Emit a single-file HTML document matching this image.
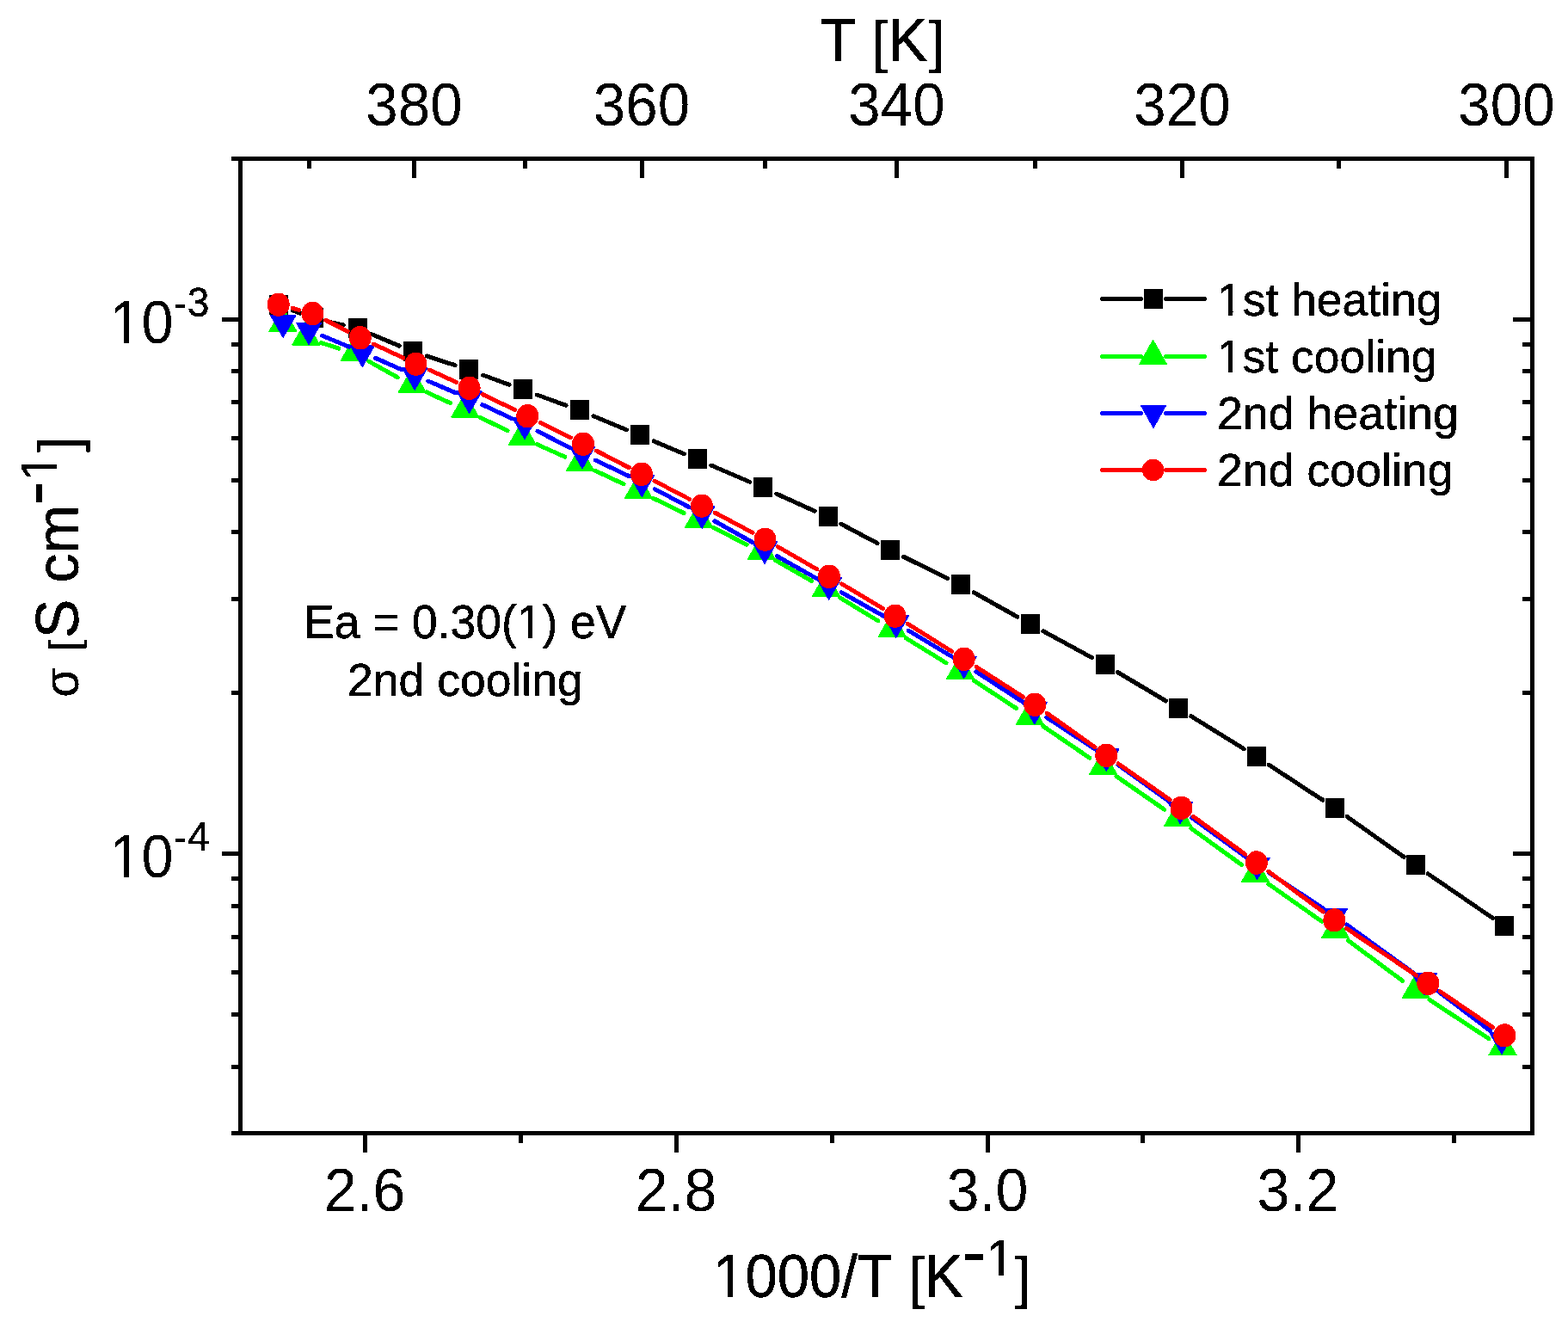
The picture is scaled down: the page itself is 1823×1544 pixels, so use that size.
<!DOCTYPE html>
<html lang="en"><head><meta charset="utf-8"><title>Conductivity Arrhenius plot</title>
<style>html,body{margin:0;padding:0;background:#fff}body{width:1823px;height:1544px;overflow:hidden}svg{display:block}text{font-family:"Liberation Sans",sans-serif;fill:#000;stroke:#000;stroke-linejoin:miter}</style>
</head><body>
<svg xmlns="http://www.w3.org/2000/svg" width="1823" height="1544" viewBox="0 0 1823 1544">
<defs><filter id="th" filterUnits="userSpaceOnUse" x="0" y="0" width="1823" height="1544" color-interpolation-filters="sRGB"><feComponentTransfer><feFuncA type="discrete" tableValues="0 1"/></feComponentTransfer></filter>
<clipPath id="ft"><path clip-rule="evenodd" d="M0 0H1823V1544H0ZM130.00 394.00H144.00V402.00H130.00ZM150.00 394.00H164.00V402.00H150.00ZM130.00 1015.00H144.00V1024.00H130.00ZM150.00 1015.00H164.00V1024.00H150.00ZM831.00 1502.00H846.00V1512.00H831.00ZM852.00 1502.00H866.00V1512.00H852.00ZM1149.00 1478.00H1161.00V1487.00H1149.00ZM1167.00 1478.00H1179.00V1487.00H1167.00ZM61.00 545.00H70.00V558.00H61.00ZM61.00 527.00H70.00V540.00H61.00ZM602.00 737.00H614.00V746.00H602.00ZM619.00 737.00H631.00V746.00H619.00ZM1416.00 363.00H1428.00V371.00H1416.00ZM1433.00 363.00H1445.00V371.00H1433.00ZM1416.00 429.00H1428.00V437.00H1416.00ZM1433.00 429.00H1445.00V437.00H1433.00Z"/></clipPath></defs>
<rect x="0" y="0" width="1823" height="1544" fill="#fff"/>
<g filter="url(#th)"><path d="M340.1 360.9L348.7 364.1M381.4 374.0L399.2 378.0M431.7 388.5L464.3 402.1M496.3 414.0L529.1 424.7M561.4 436.0L592.1 447.3M624.3 459.0L658.1 471.3M690.0 483.7L728.4 499.7M760.0 512.9L795.3 527.7M826.8 541.0L871.5 560.3M902.8 574.1L947.2 594.2M977.9 609.2L1020.1 631.6M1050.5 647.2L1101.9 672.7M1132.1 688.7L1182.9 717.3M1212.8 733.8L1269.6 764.6M1299.4 781.5L1355.5 815.0M1384.7 832.7L1446.2 870.7M1475.1 889.1L1537.9 930.2M1566.1 949.5L1632.2 996.4M1660.3 1016.0L1735.6 1067.5" fill="none" stroke="#000" stroke-width="5" stroke-linecap="round"/><path d="M313 343h22v23h-22zM354 358h22v23h-22zM405 370h22v23h-22zM469 397h22v23h-22zM534 418h22v23h-22zM597 441h22v23h-22zM663 465h22v23h-22zM733 494h22v23h-22zM800 522h22v23h-22zM876 555h22v23h-22zM952 589h22v23h-22zM1024 628h22v23h-22zM1106 668h22v23h-22zM1187 714h22v23h-22zM1274 761h22v23h-22zM1359 812h22v23h-22zM1450 868h22v23h-22zM1541 928h22v23h-22zM1635 994h22v23h-22zM1738 1065h22v23h-22z" fill="#000"/><path d="M1281.2 347.5H1326.5M1355.5 347.5H1400.5" stroke="#000" stroke-width="5" stroke-linecap="round" fill="none"/><path d="M1330 336h22v23h-22z" fill="#000"/></g>
<g filter="url(#th)"><path d="M373.6 398.6L393.9 405.1M428.7 420.1L462.3 438.7M496.1 455.9L523.3 468.6M557.6 485.0L590.0 500.7M624.5 516.7L657.0 531.2M691.5 547.0L725.0 562.8M759.3 579.2L795.1 596.4M829.2 613.3L868.1 633.2M901.5 651.3L943.8 675.5M976.5 694.8L1020.8 721.9M1053.2 741.8L1100.1 770.8M1132.1 791.1L1181.3 823.3M1212.8 844.4L1266.7 881.1M1298.0 902.6L1353.6 941.1M1384.7 963.0L1443.8 1005.6M1474.8 1027.7L1536.6 1071.2M1567.4 1093.5L1630.8 1140.6M1661.9 1162.4L1730.9 1207.7" fill="none" stroke="#0f0" stroke-width="5" stroke-linecap="round"/><path d="M328.9 356.2L345.8 385.8L312.0 385.8ZM355.8 371.9L372.7 401.5L338.9 401.5ZM412.3 390.0L429.2 419.6L395.4 419.6ZM479.2 427.0L496.1 456.6L462.3 456.6ZM540.8 455.8L557.6 485.4L523.9 485.4ZM607.4 488.1L624.2 517.7L590.5 517.7ZM674.6 518.0L691.5 547.6L657.8 547.6ZM742.4 550.1L759.2 579.7L725.5 579.7ZM812.5 583.8L829.4 613.4L795.6 613.4ZM885.3 621.0L902.1 650.6L868.4 650.6ZM960.5 664.1L977.4 693.7L943.6 693.7ZM1037.3 711.0L1054.1 740.6L1020.4 740.6ZM1116.5 759.9L1133.3 789.5L1099.7 789.5ZM1197.4 812.9L1214.2 842.5L1180.6 842.5ZM1282.6 871.0L1299.4 900.6L1265.8 900.6ZM1369.5 931.1L1386.3 960.7L1352.7 960.7ZM1459.5 995.9L1476.3 1025.5L1442.7 1025.5ZM1552.4 1061.3L1569.2 1090.9L1535.6 1090.9ZM1646.3 1131.1L1663.1 1160.7L1629.5 1160.7ZM1747.0 1197.3L1763.8 1226.9L1730.2 1226.9Z" fill="#0f0"/><path d="M1281.2 414.5H1326.5M1355.5 414.5H1400.5" stroke="#0f0" stroke-width="5" stroke-linecap="round" fill="none"/><path d="M1340.6 394.3L1357.4 423.9L1323.8 423.9Z" fill="#0f0"/></g>
<g filter="url(#th)"><path d="M374.6 390.2L405.8 403.2M436.7 416.4L466.8 429.7M497.6 443.0L530.2 456.9M560.8 470.6L594.8 486.6M625.0 501.3L662.0 520.3M692.2 535.1L731.1 553.6M761.2 568.6L801.3 589.7M830.8 605.8L874.4 630.3M903.6 646.8L949.1 672.4M978.3 688.8L1027.3 716.3M1056.3 733.1L1106.3 763.2M1134.8 780.9L1188.7 815.8M1216.9 834.1L1272.2 870.4M1300.0 889.3L1358.5 931.1M1385.8 950.7L1448.0 995.9M1475.6 1015.0L1538.0 1055.9M1565.6 1074.9L1642.4 1130.5M1669.4 1150.5L1732.6 1198.5" fill="none" stroke="#00f" stroke-width="5" stroke-linecap="round"/><path d="M329.2 393.5L344.7 366.5L313.7 366.5ZM359.1 401.7L374.6 374.7L343.6 374.7ZM421.3 427.7L436.8 400.7L405.8 400.7ZM482.2 454.4L497.7 427.4L466.7 427.4ZM545.6 481.5L561.1 454.5L530.1 454.5ZM610.0 511.7L625.5 484.7L594.5 484.7ZM677.0 545.9L692.5 518.9L661.5 518.9ZM746.3 578.8L761.8 551.8L730.8 551.8ZM816.2 615.5L831.7 588.5L800.7 588.5ZM889.0 656.6L904.5 629.6L873.5 629.6ZM963.7 698.6L979.2 671.6L948.2 671.6ZM1041.9 742.5L1057.4 715.5L1026.4 715.5ZM1120.7 789.8L1136.2 762.8L1105.2 762.8ZM1202.8 842.9L1218.3 815.9L1187.3 815.9ZM1286.3 897.6L1301.8 870.6L1270.8 870.6ZM1372.2 958.8L1387.7 931.8L1356.7 931.8ZM1461.6 1023.8L1477.1 996.8L1446.1 996.8ZM1552.0 1083.1L1567.5 1056.1L1536.5 1056.1ZM1656.0 1158.3L1671.5 1131.3L1640.5 1131.3ZM1746.0 1226.7L1761.5 1199.7L1730.5 1199.7Z" fill="#00f"/><path d="M1281.2 480.5H1326.5M1355.5 480.5H1400.5" stroke="#00f" stroke-width="5" stroke-linecap="round" fill="none"/><path d="M1341.0 498.8L1356.5 470.8L1325.5 470.8Z" fill="#00f"/></g>
<g filter="url(#th)"><path d="M340.2 358.3L347.6 360.3M378.6 372.2L404.3 385.3M434.3 400.0L468.7 416.1M499.1 430.0L530.7 444.4M561.0 458.5L598.6 476.6M628.6 491.4L663.4 508.8M693.2 524.0L731.4 543.7M761.0 559.1L801.6 580.4M831.1 596.0L875.1 619.4M904.3 635.6L949.8 661.9M978.6 678.9L1026.6 707.6M1055.1 725.1L1106.9 757.5M1135.1 775.4L1189.5 810.4M1217.1 829.1L1273.0 868.8M1300.3 888.0L1360.1 929.8M1387.3 949.2L1447.7 993.3M1474.6 1013.1L1538.2 1060.1M1565.5 1079.4L1646.8 1134.1M1674.4 1152.8L1735.8 1194.6" fill="none" stroke="#f00" stroke-width="5" stroke-linecap="round"/><path d="M310.7 354.1a13 13.7 0 1 0 26 0a13 13.7 0 1 0 -26 0zM350.4 364.5a13 13.7 0 1 0 26 0a13 13.7 0 1 0 -26 0zM405.8 392.8a13 13.7 0 1 0 26 0a13 13.7 0 1 0 -26 0zM470.5 423.1a13 13.7 0 1 0 26 0a13 13.7 0 1 0 -26 0zM532.6 451.2a13 13.7 0 1 0 26 0a13 13.7 0 1 0 -26 0zM600.3 483.8a13 13.7 0 1 0 26 0a13 13.7 0 1 0 -26 0zM665.0 516.2a13 13.7 0 1 0 26 0a13 13.7 0 1 0 -26 0zM732.9 551.3a13 13.7 0 1 0 26 0a13 13.7 0 1 0 -26 0zM803.0 588.1a13 13.7 0 1 0 26 0a13 13.7 0 1 0 -26 0zM876.5 627.1a13 13.7 0 1 0 26 0a13 13.7 0 1 0 -26 0zM950.9 670.2a13 13.7 0 1 0 26 0a13 13.7 0 1 0 -26 0zM1027.6 716.1a13 13.7 0 1 0 26 0a13 13.7 0 1 0 -26 0zM1107.7 766.2a13 13.7 0 1 0 26 0a13 13.7 0 1 0 -26 0zM1190.2 819.3a13 13.7 0 1 0 26 0a13 13.7 0 1 0 -26 0zM1273.3 878.3a13 13.7 0 1 0 26 0a13 13.7 0 1 0 -26 0zM1360.5 939.2a13 13.7 0 1 0 26 0a13 13.7 0 1 0 -26 0zM1447.9 1003.0a13 13.7 0 1 0 26 0a13 13.7 0 1 0 -26 0zM1538.3 1069.9a13 13.7 0 1 0 26 0a13 13.7 0 1 0 -26 0zM1647.3 1143.3a13 13.7 0 1 0 26 0a13 13.7 0 1 0 -26 0zM1736.3 1203.9a13 13.7 0 1 0 26 0a13 13.7 0 1 0 -26 0z" fill="#f00"/><path d="M1281.2 546.5H1326.5M1355.5 546.5H1400.5" stroke="#f00" stroke-width="5" stroke-linecap="round" fill="none"/><path d="M1327.9 546.5a12.7 12.7 0 1 0 25.4 0a12.7 12.7 0 1 0 -25.4 0z" fill="#f00"/></g>
<g fill="#000" shape-rendering="crispEdges">
<rect x="269" y="182" width="1515" height="5"/>
<rect x="269" y="1315" width="1515" height="5"/>
<rect x="277" y="182" width="5" height="1138"/>
<rect x="1779" y="182" width="5" height="1138"/>
<rect x="479" y="182" width="5" height="25"/>
<rect x="744" y="182" width="5" height="25"/>
<rect x="1040" y="182" width="5" height="25"/>
<rect x="1372" y="182" width="5" height="25"/>
<rect x="1749" y="182" width="5" height="25"/>
<rect x="357" y="182" width="5" height="14"/>
<rect x="608" y="182" width="5" height="14"/>
<rect x="887" y="182" width="5" height="14"/>
<rect x="1201" y="182" width="5" height="14"/>
<rect x="1554" y="182" width="5" height="14"/>
<rect x="422" y="1315" width="5" height="25"/>
<rect x="784" y="1315" width="5" height="25"/>
<rect x="1146" y="1315" width="5" height="25"/>
<rect x="1507" y="1315" width="5" height="25"/>
<rect x="603" y="1315" width="5" height="14"/>
<rect x="965" y="1315" width="5" height="14"/>
<rect x="1326" y="1315" width="5" height="14"/>
<rect x="1688" y="1315" width="5" height="14"/>
<rect x="258" y="369" width="24" height="5"/>
<rect x="1759" y="369" width="25" height="5"/>
<rect x="258" y="990" width="24" height="5"/>
<rect x="1759" y="990" width="25" height="5"/>
<rect x="269" y="398" width="13" height="5"/>
<rect x="1770" y="398" width="14" height="5"/>
<rect x="269" y="429" width="13" height="5"/>
<rect x="1770" y="429" width="14" height="5"/>
<rect x="269" y="465" width="13" height="5"/>
<rect x="1770" y="465" width="14" height="5"/>
<rect x="269" y="507" width="13" height="5"/>
<rect x="1770" y="507" width="14" height="5"/>
<rect x="269" y="556" width="13" height="5"/>
<rect x="1770" y="556" width="14" height="5"/>
<rect x="269" y="616" width="13" height="5"/>
<rect x="1770" y="616" width="14" height="5"/>
<rect x="269" y="694" width="13" height="5"/>
<rect x="1770" y="694" width="14" height="5"/>
<rect x="269" y="803" width="13" height="5"/>
<rect x="1770" y="803" width="14" height="5"/>
<rect x="269" y="1019" width="13" height="5"/>
<rect x="1770" y="1019" width="14" height="5"/>
<rect x="269" y="1051" width="13" height="5"/>
<rect x="1770" y="1051" width="14" height="5"/>
<rect x="269" y="1087" width="13" height="5"/>
<rect x="1770" y="1087" width="14" height="5"/>
<rect x="269" y="1128" width="13" height="5"/>
<rect x="1770" y="1128" width="14" height="5"/>
<rect x="269" y="1177" width="13" height="5"/>
<rect x="1770" y="1177" width="14" height="5"/>
<rect x="269" y="1238" width="13" height="5"/>
<rect x="1770" y="1238" width="14" height="5"/>
</g>
<g filter="url(#th)"><g clip-path="url(#ft)">
<text transform="scale(0.9898 1.0400)" xml:space="preserve"><tspan x="429.71" y="140.67" font-size="68" stroke-width="0.02">380</tspan></text>
<text transform="scale(0.9898 1.0400)" xml:space="preserve"><tspan x="696.93" y="140.67" font-size="68" stroke-width="0.02">360</tspan></text>
<text transform="scale(0.9898 1.0400)" xml:space="preserve"><tspan x="996.48" y="140.67" font-size="68" stroke-width="0.02">340</tspan></text>
<text transform="scale(0.9898 1.0400)" xml:space="preserve"><tspan x="1331.90" y="140.67" font-size="68" stroke-width="0.02">320</tspan></text>
<text transform="scale(0.9898 1.0400)" xml:space="preserve"><tspan x="1712.78" y="140.67" font-size="68" stroke-width="0.02">300</tspan></text>
<text transform="scale(1.0051 1.0300)" xml:space="preserve"><tspan x="949.03" y="69.03" font-size="68" stroke-width="0.8">T </tspan><tspan x="1008.81" y="69.03" font-size="65.6" stroke-width="0.3">[</tspan><tspan x="1027.60" y="69.03" font-size="68" stroke-width="0.8">K</tspan><tspan x="1074.49" y="69.03" font-size="65.6" stroke-width="0.3">]</tspan></text>
<text transform="scale(1.0022 1.0400)" xml:space="preserve"><tspan x="375.85" y="1354.04" font-size="68" stroke-width="0.02">2.6</tspan></text>
<text transform="scale(1.0022 1.0400)" xml:space="preserve"><tspan x="737.04" y="1354.04" font-size="68" stroke-width="0.02">2.8</tspan></text>
<text transform="scale(1.0022 1.0400)" xml:space="preserve"><tspan x="1098.23" y="1354.04" font-size="68" stroke-width="0.02">3.0</tspan></text>
<text transform="scale(1.0022 1.0400)" xml:space="preserve"><tspan x="1458.42" y="1354.04" font-size="68" stroke-width="0.02">3.2</tspan></text>
<text transform="scale(0.9803 1.0400)" xml:space="preserve"><tspan x="130.10" y="383.46" font-size="68" stroke-width="0.02">10</tspan><tspan x="206.00" y="355.10" font-size="46" stroke-width="0.4">-</tspan><tspan x="222.22" y="353.46" font-size="47" stroke-width="0.4">3</tspan></text>
<text transform="scale(0.9803 1.0400)" xml:space="preserve"><tspan x="130.10" y="980.77" font-size="68" stroke-width="0.02">10</tspan><tspan x="206.00" y="952.40" font-size="46" stroke-width="0.4">-</tspan><tspan x="222.40" y="950.77" font-size="47" stroke-width="0.4">4</tspan></text>
<text transform="scale(0.9859 1.0300)" xml:space="preserve"><tspan x="840.98" y="1464.08" font-size="68" stroke-width="0.5">1000/T </tspan><tspan x="1072.12" y="1464.08" font-size="65.6" stroke-width="0.3">[</tspan><tspan x="1090.50" y="1464.08" font-size="68" stroke-width="0.8">K</tspan><tspan x="1135.01" y="1441.75" font-size="84" stroke-width="0.3">-</tspan><tspan x="1163.43" y="1439.81" font-size="58" stroke-width="0.3">1</tspan><tspan x="1196.93" y="1464.08" font-size="65.6" stroke-width="0.3">]</tspan></text>
<text transform="rotate(-90) scale(1.0027 1.0300)" xml:space="preserve"><tspan x="-808.62" y="88.35" font-size="55" stroke-width="0.4">σ </tspan><tspan x="-754.77" y="88.35" font-size="47" stroke-width="0.4">[</tspan><tspan x="-740.11" y="88.35" font-size="68" stroke-width="0.6">S cm</tspan><tspan x="-586.13" y="66.99" font-size="84" stroke-width="0.3">-</tspan><tspan x="-558.11" y="64.08" font-size="58" stroke-width="0.3">1</tspan><tspan x="-524.48" y="88.35" font-size="65.6" stroke-width="0.3">]</tspan></text>
<text transform="scale(0.9883 1.0200)" xml:space="preserve"><tspan x="357.23" y="727.25" font-size="54" stroke-width="0.45">Ea = 0.30(1) eV</tspan></text>
<text transform="scale(0.9908 1.0000)" xml:space="preserve"><tspan x="407.78" y="809.00" font-size="54" stroke-width="0.45">2nd cooling</tspan></text>
<text transform="scale(0.9898 1.0000)" xml:space="preserve"><tspan x="1429.57" y="367.00" font-size="54" stroke-width="0.45">1st heating</tspan></text>
<text transform="scale(0.9908 1.0000)" xml:space="preserve"><tspan x="1427.98" y="433.20" font-size="54" stroke-width="0.45">1st cooling</tspan></text>
<text transform="scale(0.9953 1.0000)" xml:space="preserve"><tspan x="1421.68" y="499.20" font-size="54" stroke-width="0.45">2nd heating</tspan></text>
<text transform="scale(0.9941 1.0000)" xml:space="preserve"><tspan x="1423.42" y="565.00" font-size="54" stroke-width="0.45">2nd cooling</tspan></text>
</g></g>
</svg></body></html>
